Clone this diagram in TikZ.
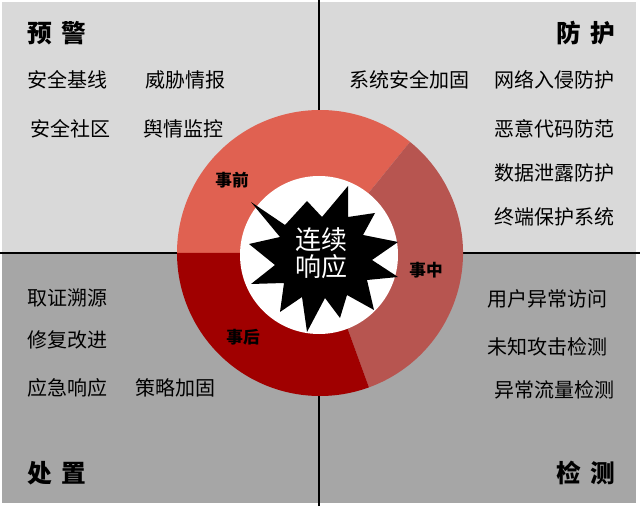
\documentclass[tikz,border=0pt]{standalone}
\usepackage{fontspec}
\setmainfont{Noto Sans CJK SC}
\definecolor{paleq}{HTML}{D9D9D9}
\definecolor{darkq}{HTML}{A6A6A6}
\definecolor{ringpre}{HTML}{E06151}
\definecolor{ringmid}{HTML}{B75550}
\definecolor{ringpost}{HTML}{A00000}
\tikzset{
  item/.style={inner sep=0pt,font=\fontsize{15}{18}\selectfont},
  quadtitle/.style={inner sep=0pt,font=\fontsize{18.5}{20}\selectfont\bfseries},
  phase/.style={inner sep=0pt,font=\fontsize{12.5}{15}\selectfont\bfseries},
  coretext/.style={inner sep=0pt,align=center,text=white,
    font=\fontsize{19.5}{20}\selectfont},
}
\begin{document}
\begin{tikzpicture}[x=0.75pt,y=0.75pt]
  \useasboundingbox[fill=white] (0,0) rectangle (640,508);
  % quadrants + cross
  \fill[paleq] (2,255) rectangle (636,506);
  \fill[darkq] (2,5) rectangle (636,255);
  \draw[line width=2.2pt] (0,255) -- (640,255);
  \draw[line width=2.2pt] (319,2) -- (319,508);

  % ring of the three phases
  \coordinate (c) at (320,255);
  \fill[ringpre] (c) -- ++(51:143) arc[start angle=51,end angle=180,radius=143] -- cycle;
  \fill[ringmid] (c) -- ++(-70:143) arc[start angle=-70,end angle=51,radius=143] -- cycle;
  \fill[ringpost] (c) -- ++(180:143) arc[start angle=180,end angle=290,radius=143] -- cycle;
  \fill[white] (319,253) circle (79);

  % burst
  \fill (251,306) -- (285,283) -- (307,307) -- (322,291) -- (348,322) -- (348,291)
    -- (375,295) -- (363,273) -- (398,266) -- (372,248) -- (398,231) -- (367,228)
    -- (374,198) -- (347,213) -- (340,190) -- (325,210) -- (307,176) -- (302,211)
    -- (280,196) -- (284,225) -- (251,224) -- (275,243) -- (249,264) -- (280,271) -- cycle;
  \node[coretext] (core) at (321,255) {连续\\响应};

  \node[phase] (pre) at (232,328) {事前};
  \node[phase] (mid) at (426,238) {事中};
  \node[phase] (post) at (243,171) {事后};

  % titles
  \node[quadtitle,anchor=west] (warn) at (27,475) {预\hspace{7pt}警};
  \node[quadtitle,anchor=east] (guard) at (615,475) {防\hspace{7pt}护};
  \node[quadtitle,anchor=west] (handle) at (27,35) {处\hspace{7pt}置};
  \node[quadtitle,anchor=east] (detect) at (615,35) {检\hspace{7pt}测};

  % items
  \foreach \nm/\xx/\yy/\lab in {wa/27/428/安全基线, wb/145/428/威胁情报,
      wc/30/379/安全社区, wd/143/379/舆情监控, ga/349/428/系统安全加固,
      ha/27/210/取证溯源, hb/27/168/修复改进, hc/27/120/应急响应, hd/135/120/策略加固}
    \node[item,anchor=west] (\nm) at (\xx,\yy) {\lab};
  \foreach \nm/\xx/\yy/\lab in {gb/615/428/网络入侵防护, gc/615/379/恶意代码防范,
      gd/615/335/数据泄露防护, ge/615/291/终端保护系统,
      da/608/209/用户异常访问, db/608/161/未知攻击检测, dc/615/118/异常流量检测}
    \node[item,anchor=east] (\nm) at (\xx,\yy) {\lab};
\end{tikzpicture}
\end{document}
